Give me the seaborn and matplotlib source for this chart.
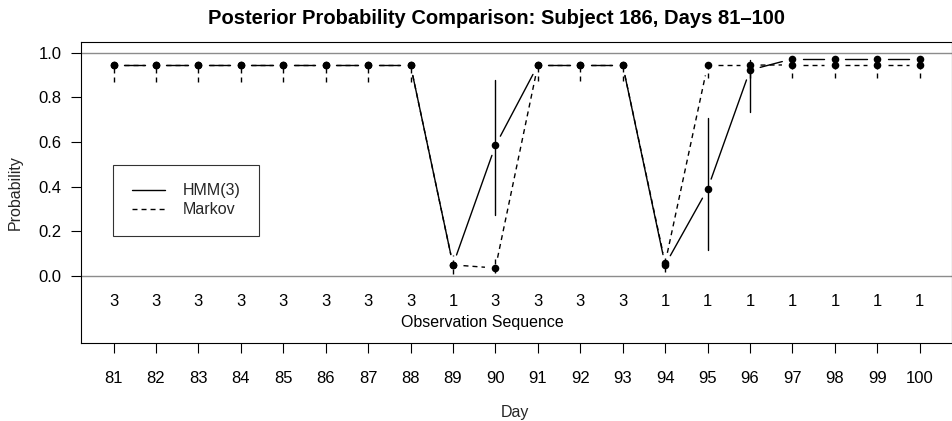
import numpy as np
import pandas as pd
import matplotlib
matplotlib.use("Agg")
import matplotlib.pyplot as plt
import seaborn as sns
from matplotlib.lines import Line2D

# ---------------- data ----------------
days = [81, 82, 83, 84, 85, 86, 87, 88, 89, 90,
        91, 92, 93, 94, 95, 96, 97, 98, 99, 100]
obs_seq = [3, 3, 3, 3, 3, 3, 3, 3, 1, 3,
           3, 3, 3, 1, 1, 1, 1, 1, 1, 1]

hmm_prob = [0.945, 0.945, 0.945, 0.945, 0.945, 0.945, 0.945, 0.945, 0.050, 0.585,
            0.945, 0.945, 0.945, 0.050, 0.390, 0.923, 0.973, 0.973, 0.973, 0.973]
hmm_lo = [0.935, 0.935, 0.935, 0.935, 0.935, 0.935, 0.935, 0.935, 0.040, 0.274,
          0.935, 0.935, 0.935, 0.040, 0.118, 0.735, 0.962, 0.962, 0.962, 0.962]
hmm_hi = [0.955, 0.955, 0.955, 0.955, 0.955, 0.955, 0.955, 0.955, 0.060, 0.878,
          0.955, 0.955, 0.955, 0.060, 0.707, 0.968, 0.982, 0.982, 0.982, 0.982]

markov_prob = [0.945, 0.945, 0.945, 0.945, 0.945, 0.945, 0.945, 0.945, 0.050, 0.036,
               0.945, 0.945, 0.945, 0.058, 0.945, 0.945, 0.946, 0.946, 0.946, 0.946]
markov_lo = [0.870, 0.870, 0.870, 0.870, 0.870, 0.870, 0.870, 0.870, 0.010, 0.012,
             0.875, 0.875, 0.875, 0.020, 0.887, 0.887, 0.887, 0.887, 0.887, 0.887]
markov_hi = [0.955, 0.955, 0.955, 0.955, 0.955, 0.955, 0.955, 0.955, 0.095, 0.080,
             0.955, 0.955, 0.955, 0.090, 0.955, 0.955, 0.955, 0.955, 0.955, 0.955]

series_names = ["HMM(3)", "Markov"]
y_ticks = [0.0, 0.2, 0.4, 0.6, 0.8, 1.0]
y_ticklabels = ["0.0", "0.2", "0.4", "0.6", "0.8", "1.0"]

title = "Posterior Probability Comparison: Subject 186, Days 81\u2013100"

# ---------------- style ----------------
sns.set_theme(style="white")
plt.rcParams["font.family"] = ["Liberation Sans", "DejaVu Sans"]
plt.rcParams["axes.linewidth"] = 0.8
plt.rcParams["axes.edgecolor"] = "black"

FS = 12
fig = plt.figure(figsize=(9.53, 4.21), dpi=100)
W, H = 953, 421
left, right, top, bottom = 81.3, 952.0, 41.7, 343.0
ax = fig.add_axes([left / W, 1 - bottom / H, (right - left) / W, (bottom - top) / H])
ax.set_xlim(80.24, 100.76)
ax.set_ylim(-0.3, 1.05)
AW, AH = right - left, bottom - top

dash = (0, (3.6, 2.9))
LW = 1.0
GAP = 10.5  # pixels, R type="b" gap around points

# reference lines
ax.axhline(0, color="#8c8c8c", lw=1.0, zorder=1)
ax.axhline(1, color="#8c8c8c", lw=1.0, zorder=1)

def gapped_lines(xs, ys, ls):
    pts = ax.transData.transform(np.column_stack([xs, ys]))
    inv = ax.transData.inverted()
    for (x0, y0), (x1, y1) in zip(pts[:-1], pts[1:]):
        d = np.hypot(x1 - x0, y1 - y0)
        if d <= 2 * GAP:
            continue
        ux, uy = (x1 - x0) / d, (y1 - y0) / d
        a = inv.transform((x0 + ux * GAP, y0 + uy * GAP))
        b = inv.transform((x1 - ux * GAP, y1 - uy * GAP))
        ax.add_line(Line2D([a[0], b[0]], [a[1], b[1]], color="black",
                           lw=LW, linestyle=ls, zorder=2))

gapped_lines(days, hmm_prob, "-")
gapped_lines(days, markov_prob, dash)

# interval bars
for d, lo, hi in zip(days, hmm_lo, hmm_hi):
    ax.add_line(Line2D([d, d], [lo, hi], color="black", lw=LW, linestyle="-", zorder=2))
for d, lo, hi in zip(days, markov_lo, markov_hi):
    ax.add_line(Line2D([d, d], [lo, hi], color="black", lw=LW, linestyle=dash, zorder=2))

# points
pts_df = pd.DataFrame({
    "day": days + days,
    "prob": hmm_prob + markov_prob,
    "model": [series_names[0]] * len(days) + [series_names[1]] * len(days),
})
sns.scatterplot(data=pts_df, x="day", y="prob", color="black", s=30,
                edgecolor="black", linewidth=0, legend=False, ax=ax, zorder=3)

# observation sequence
for d, o in zip(days, obs_seq):
    ax.text(d, -0.132, str(o), ha="center", va="baseline", fontsize=FS, color="black")
ax.text(89.7, -0.227, "Observation Sequence", ha="center", va="baseline",
        fontsize=11.5, color="black")

# axes
ax.set_xticks(days)
ax.set_xticklabels([str(d) for d in days])
ax.set_yticks(y_ticks)
ax.set_yticklabels(y_ticklabels)
ax.tick_params(axis="both", which="major", direction="out", length=7.2, width=0.8,
               color="black", labelsize=FS, labelcolor="black")
ax.tick_params(axis="x", pad=13.2)
ax.tick_params(axis="y", pad=7)
ax.tick_params(left=True, bottom=True)
ax.set_xlabel("Day", fontsize=11.5)
ax.set_ylabel("Probability", fontsize=11.5)
ax.xaxis.set_label_coords(0.5 - (left + AW / 2 - 515) / AW, (bottom - 405) / AH)
ax.yaxis.set_label_coords((23 - left) / AW, 0.5)
for s in ax.spines.values():
    s.set_visible(True)
    s.set_color("black")
    s.set_linewidth(0.8)

ax.text((497 - left) / AW, 1.0 + (top - 24) / AH, title, transform=ax.transAxes,
        ha="center", va="baseline", fontsize=14.5, fontweight="bold", color="black")

# legend
handles = [Line2D([], [], color="black", lw=LW, linestyle="-"),
           Line2D([], [], color="black", lw=LW, linestyle=dash)]
leg = ax.legend(handles, series_names, loc="upper left",
                bbox_to_anchor=((113.3 - left) / AW, (bottom - 165) / AH),
                borderaxespad=0, frameon=True, fancybox=False, fontsize=11.5,
                handlelength=2.1, handletextpad=1.1, borderpad=1.15, labelspacing=0.25)
leg.get_frame().set_edgecolor("black")
leg.get_frame().set_linewidth(0.8)
leg.get_frame().set_facecolor("white")

fig.savefig("out.png", dpi=100)
